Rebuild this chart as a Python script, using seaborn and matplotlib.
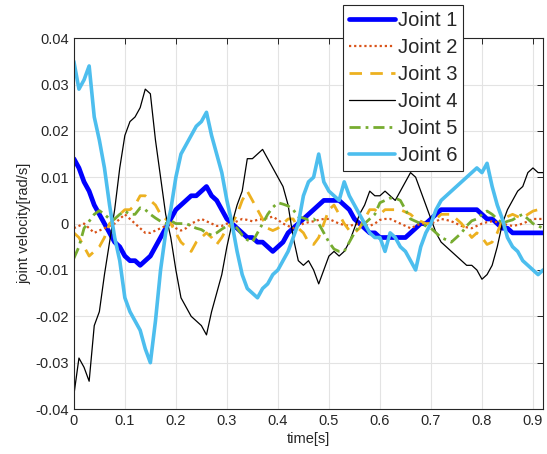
import numpy as np
import matplotlib
matplotlib.use('Agg')
import matplotlib.pyplot as plt
import seaborn as sns

# time axis, sampled every 0.01 s
t = np.round(np.linspace(0, 0.92, 93), 2)

joint1 = [0.014, 0.012, 0.009, 0.007, 0.004, 0.002, 0.000, -0.002, -0.004, -0.005,
          -0.007, -0.008, -0.008, -0.009, -0.008, -0.007, -0.005, -0.003, -0.001, 0.001,
          0.003, 0.004, 0.005, 0.006, 0.006, 0.007, 0.008, 0.006, 0.005, 0.003,
          0.001, 0.000, -0.001, -0.002, -0.003, -0.003, -0.004, -0.004, -0.005, -0.006,
          -0.005, -0.004, -0.002, -0.001, 0.000, 0.001, 0.002, 0.003, 0.004, 0.005,
          0.005, 0.005, 0.005, 0.004, 0.003, 0.001, 0.000, -0.001, -0.002, -0.002,
          -0.003, -0.003, -0.003, -0.003, -0.003, -0.003, -0.002, -0.001, 0.000, 0.000,
          0.001, 0.002, 0.003, 0.003, 0.003, 0.003, 0.003, 0.003, 0.003, 0.003,
          0.002, 0.001, 0.001, 0.000, -0.001, -0.001, -0.002, -0.002, -0.002, -0.002,
          -0.002, -0.002, -0.002]

joint2 = [-0.001, -0.0005, 0.000, -0.001, -0.002, -0.0015, -0.001, -0.0005, 0.000, 0.001,
          0.002, 0.001, 0.000, -0.001, -0.002, -0.002, -0.0015, -0.001, -0.0005, 0.000,
          -0.001, -0.0015, -0.001, 0.000, 0.0005, 0.001, 0.0005, 0.000, -0.0005, -0.0005,
          0.000, 0.000, 0.0005, 0.001, 0.0008, 0.0005, 0.0008, 0.001, 0.0012, 0.0015,
          0.0008, 0.000, -0.0005, -0.001, -0.0005, 0.000, 0.0003, 0.0005, 0.0008, 0.001,
          0.001, 0.0005, 0.000, -0.0003, -0.0005, -0.0002, 0.000, -0.0003, -0.0005, 0.000,
          0.0008, 0.001, 0.001, 0.0005, 0.000, -0.0005, -0.001, -0.0005, 0.000, 0.000,
          0.000, 0.0005, 0.001, 0.0008, 0.0005, 0.000, -0.0005, -0.0008, -0.001, -0.0005,
          0.000, 0.0003, 0.0005, 0.0003, 0.000, -0.0003, -0.0005, -0.0003, 0.000, 0.0005,
          0.001, 0.001, 0.001]

joint3 = [-0.002, -0.003, -0.005, -0.007, -0.006, -0.005, -0.003, 0.000, 0.001, 0.002,
          0.003, 0.003, 0.004, 0.006, 0.006, 0.005, 0.004, 0.002, 0.001, 0.000,
          -0.002, -0.004, -0.005, -0.006, -0.004, -0.003, -0.002, -0.003, -0.0045, -0.003,
          -0.001, 0.000, 0.002, 0.005, 0.007, 0.005, 0.003, 0.001, -0.001, -0.0015,
          -0.001, 0.000, 0.001, 0.001, -0.001, -0.002, -0.004, -0.0045, -0.003, 0.000,
          0.003, 0.004, 0.002, 0.000, -0.0015, -0.002, -0.001, 0.001, 0.003, 0.003,
          0.002, 0.003, 0.003, 0.003, 0.003, 0.0025, 0.002, 0.001, 0.0005, 0.000,
          0.000, 0.001, 0.002, 0.002, 0.002, 0.001, 0.000, -0.0015, -0.003, -0.002,
          -0.003, -0.0045, -0.004, -0.002, 0.0008, 0.0015, 0.002, 0.0015, 0.0012, 0.002,
          0.0027, 0.003, 0.004]

joint4 = [-0.037, -0.029, -0.031, -0.034, -0.022, -0.019, -0.011, -0.004, 0.003, 0.012,
          0.019, 0.022, 0.023, 0.025, 0.029, 0.028, 0.018, 0.010, 0.002, -0.003,
          -0.010, -0.016, -0.018, -0.020, -0.021, -0.022, -0.024, -0.019, -0.015, -0.011,
          -0.005, 0.000, 0.004, 0.007, 0.014, 0.014, 0.015, 0.016, 0.014, 0.012,
          0.010, 0.008, 0.004, -0.003, -0.008, -0.009, -0.008, -0.010, -0.013, -0.010,
          -0.007, -0.006, -0.007, -0.006, -0.004, -0.001, 0.002, 0.004, 0.007, 0.006,
          0.006, 0.007, 0.006, 0.005, 0.007, 0.009, 0.011, 0.010, 0.007, 0.004,
          0.001, -0.002, -0.004, -0.005, -0.006, -0.007, -0.008, -0.009, -0.009, -0.010,
          -0.012, -0.011, -0.009, -0.005, 0.000, 0.003, 0.005, 0.007, 0.008, 0.011,
          0.012, 0.011, 0.011]

joint5 = [-0.0075, -0.005, -0.001, 0.0005, 0.002, 0.0028, 0.002, 0.001, 0.001, 0.002,
          0.0027, 0.002, 0.002, 0.0034, 0.003, 0.002, 0.0012, 0.0005, 0.000, 0.0006,
          0.000, 0.000, 0.000, -0.0005, -0.001, -0.0013, -0.002, -0.0025, -0.002, -0.0012,
          -0.0005, 0.000, -0.001, -0.0025, -0.0035, -0.004, -0.002, 0.000, 0.002, 0.0035,
          0.0045, 0.0042, 0.0038, 0.003, 0.0015, 0.0012, 0.0008, 0.001, 0.000, -0.002,
          -0.004, -0.0055, -0.006, -0.006, -0.004, -0.002, -0.0005, 0.000, 0.001, 0.002,
          0.0045, 0.005, 0.0055, 0.0055, 0.005, 0.003, 0.001, 0.0005, 0.000, -0.0005,
          -0.001, -0.002, -0.003, -0.0035, -0.004, -0.003, -0.002, -0.0005, 0.0006, 0.001,
          0.002, 0.0027, 0.002, 0.001, 0.000, 0.0005, 0.0008, 0.0015, 0.002, 0.001,
          0.000, -0.0005, -0.001]

joint6 = [0.035, 0.029, 0.031, 0.034, 0.023, 0.018, 0.012, 0.004, -0.003, -0.008,
          -0.016, -0.019, -0.021, -0.023, -0.027, -0.030, -0.021, -0.010, -0.002, 0.003,
          0.010, 0.015, 0.017, 0.019, 0.021, 0.022, 0.024, 0.019, 0.015, 0.011,
          0.005, 0.000, -0.006, -0.011, -0.014, -0.015, -0.016, -0.014, -0.013, -0.011,
          -0.010, -0.008, -0.006, -0.003, 0.000, 0.006, 0.009, 0.010, 0.015, 0.009,
          0.007, 0.006, 0.005, 0.009, 0.006, 0.004, 0.002, 0.000, -0.002, -0.003,
          -0.003, -0.006, -0.002, -0.003, -0.005, -0.006, -0.008, -0.010, -0.005, -0.002,
          0.000, 0.003, 0.005, 0.006, 0.007, 0.008, 0.009, 0.010, 0.011, 0.012,
          0.011, 0.013, 0.008, 0.004, 0.001, -0.003, -0.005, -0.006, -0.008, -0.009,
          -0.010, -0.011, -0.010]

labels = ['Joint 1', 'Joint 2', 'Joint 3', 'Joint 4', 'Joint 5', 'Joint 6']
y_ticks = [-0.04, -0.03, -0.02, -0.01, 0, 0.01, 0.02, 0.03, 0.04]
y_tick_labels = ['-0.04', '-0.03', '-0.02', '-0.01', '0', '0.01', '0.02', '0.03', '0.04']
x_ticks = [0, 0.1, 0.2, 0.3, 0.4, 0.5, 0.6, 0.7, 0.8, 0.9]
x_tick_labels = ['0', '0.1', '0.2', '0.3', '0.4', '0.5', '0.6', '0.7', '0.8', '0.9']


def main():
    sns.set_style('white')
    plt.rcParams['font.family'] = ['Liberation Sans', 'DejaVu Sans']
    plt.rcParams['axes.unicode_minus'] = False

    fig = plt.figure(figsize=(5.47, 4.54), dpi=100)
    ax = fig.add_axes([0.135, 0.099, 0.858, 0.817])

    series = [joint1, joint2, joint3, joint4, joint5, joint6]
    colors = ['#0000FF', '#D95319', '#EDB120', '#000000', '#77AC30', '#4DBEEE']
    widths = [3.4, 1.6, 2.0, 0.9, 2.0, 2.6]
    styles = ['-', (0, (1, 1.3)), (0, (4.5, 3)), '-', (0, (4, 1.8, 1, 1.8)), '-']

    for y, lab, c, lw, ls in zip(series, labels, colors, widths, styles):
        sns.lineplot(x=t, y=y, ax=ax, color=c, linewidth=lw, linestyle=ls, label=lab)

    ax.set_xlim(0, 0.92)
    ax.set_ylim(-0.04, 0.04)
    ax.set_xticks(x_ticks)
    ax.set_xticklabels(x_tick_labels)
    ax.set_yticks(y_ticks)
    ax.set_yticklabels(y_tick_labels)
    ax.tick_params(direction='in', top=True, right=True, length=4, width=0.7,
                   labelsize=10.5, colors='#262626')
    ax.grid(True, color='#e3e3e3', linewidth=0.8)
    for sp in ax.spines.values():
        sp.set_color('#262626')
        sp.set_linewidth(0.8)
    ax.set_xlabel('time[s]', fontsize=10.5, color='#262626', labelpad=3)
    ax.set_ylabel('joint velocity[rad/s]', fontsize=10.5, color='#262626', labelpad=3)

    leg = ax.legend(loc='upper left', bbox_to_anchor=(0.627, 0.989),
                    bbox_transform=fig.transFigure, borderaxespad=0,
                    fontsize=14.5, frameon=True, fancybox=False, framealpha=1,
                    handlelength=2.3, handletextpad=0.12, labelspacing=0.4,
                    borderpad=0.3)
    leg.get_frame().set_edgecolor('#262626')
    leg.get_frame().set_linewidth(0.8)

    fig.savefig('out.png', dpi=100)


if __name__ == '__main__':
    main()
